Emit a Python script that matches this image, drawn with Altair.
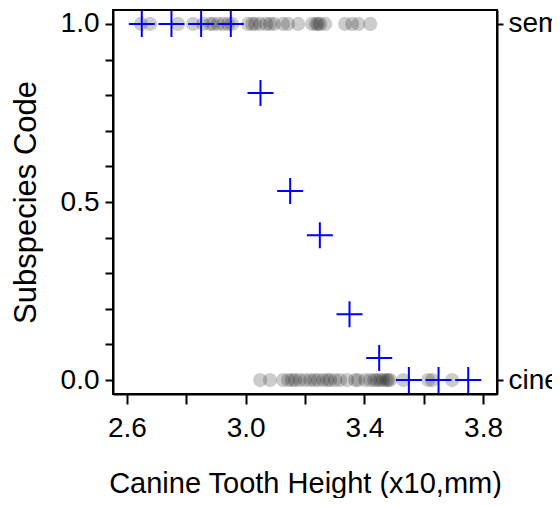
import altair as alt
import pandas as pd

# Observed canine tooth heights (x10, mm) by subspecies code
sem_heights = [2.647, 2.678, 2.772, 2.823, 2.856, 2.880, 2.890, 2.907, 2.924, 2.941,
               2.954, 3.008, 3.022, 3.032, 3.049, 3.069, 3.082, 3.096, 3.126, 3.143,
               3.177, 3.224, 3.237, 3.244, 3.251, 3.268, 3.335, 3.359, 3.380, 3.420]
cine_heights = [3.049, 3.082, 3.126, 3.143, 3.156, 3.167, 3.183, 3.200, 3.217, 3.231,
                3.244, 3.261, 3.275, 3.285, 3.302, 3.318, 3.342, 3.369, 3.379, 3.403,
                3.420, 3.433, 3.443, 3.453, 3.463, 3.474, 3.480, 3.487, 3.531, 3.615,
                3.629, 3.696]

# Binned proportions (blue crosses)
bin_centers = [2.65, 2.75, 2.85, 2.95, 3.05, 3.15, 3.25, 3.35, 3.45, 3.55, 3.65, 3.75]
bin_props = [1.0, 1.0, 1.0, 1.0, 0.806, 0.531, 0.407, 0.185, 0.062, 0.0, 0.0, 0.0]

x_ticks = [2.6, 2.8, 3.0, 3.2, 3.4, 3.6, 3.8]
y_ticks = [0.0, 0.1, 0.2, 0.3, 0.4, 0.5, 0.6, 0.7, 0.8, 0.9, 1.0]

points = pd.DataFrame({
    "height": sem_heights + cine_heights,
    "code": [1.0] * len(sem_heights) + [0.0] * len(cine_heights),
})
bins = pd.DataFrame({"height": bin_centers, "prop": bin_props})

FONT = "Liberation Sans"
x_scale = alt.Scale(domain=[2.553, 3.847], nice=False, zero=False)
y_scale = alt.Scale(domain=[-0.039, 1.039], nice=False, zero=False)

x_axis = alt.Axis(
    title="Canine Tooth Height (x10,mm)",
    values=x_ticks, format=".1f",
    labelExpr="indexof(['2.6','3.0','3.4','3.8'], datum.label) >= 0 ? datum.label : ''",
    tickSize=10, labelPadding=10, titlePadding=27, labelFlush=False, labelOverlap=False,
    titleFontSize=29,
)

left_axis = alt.Axis(
    title="Subspecies Code", orient="left",
    values=y_ticks, format=".1f",
    labelExpr="indexof(['0.0','0.5','1.0'], datum.label) >= 0 ? datum.label : ''",
    tickSize=8, labelPadding=6, titlePadding=18, labelOverlap=False,
    titleFontSize=31,
)

right_axis = alt.Axis(
    title=None, orient="right", values=[0.0, 1.0],
    labelExpr="datum.value > 0.5 ? 'sem' : 'cine'",
    tickSize=6, labelPadding=5, labelOverlap=False,
)

pts = alt.Chart(points).mark_circle(size=200, color="black", opacity=0.2).encode(
    x=alt.X("height:Q", scale=x_scale, axis=x_axis),
    y=alt.Y("code:Q", scale=y_scale, axis=left_axis),
)

crosses = alt.Chart(bins).mark_point(
    shape="M-1,0H1M0,-1V1", size=676, filled=False, color="blue", strokeWidth=2, opacity=1
).encode(
    x=alt.X("height:Q", scale=x_scale, axis=x_axis),
    y=alt.Y("prop:Q", scale=y_scale, axis=right_axis),
)

chart = alt.layer(pts, crosses).resolve_axis(y="independent").properties(
    width=384, height=384,
    autosize=alt.AutoSizeParams(type="none"),
    padding={"left": 105, "top": 2, "right": 55, "bottom": 104},
).configure_view(
    stroke="black", strokeWidth=2
).configure_axis(
    grid=False, domainColor="black", domainWidth=2, tickColor="black", tickWidth=2,
    labelFont=FONT, titleFont=FONT, labelFontSize=28, titleFontSize=28,
    labelColor="black", titleColor="black", titleFontWeight="normal",
)

chart.save("out.html", embed_options={"renderer": "svg", "actions": False})
